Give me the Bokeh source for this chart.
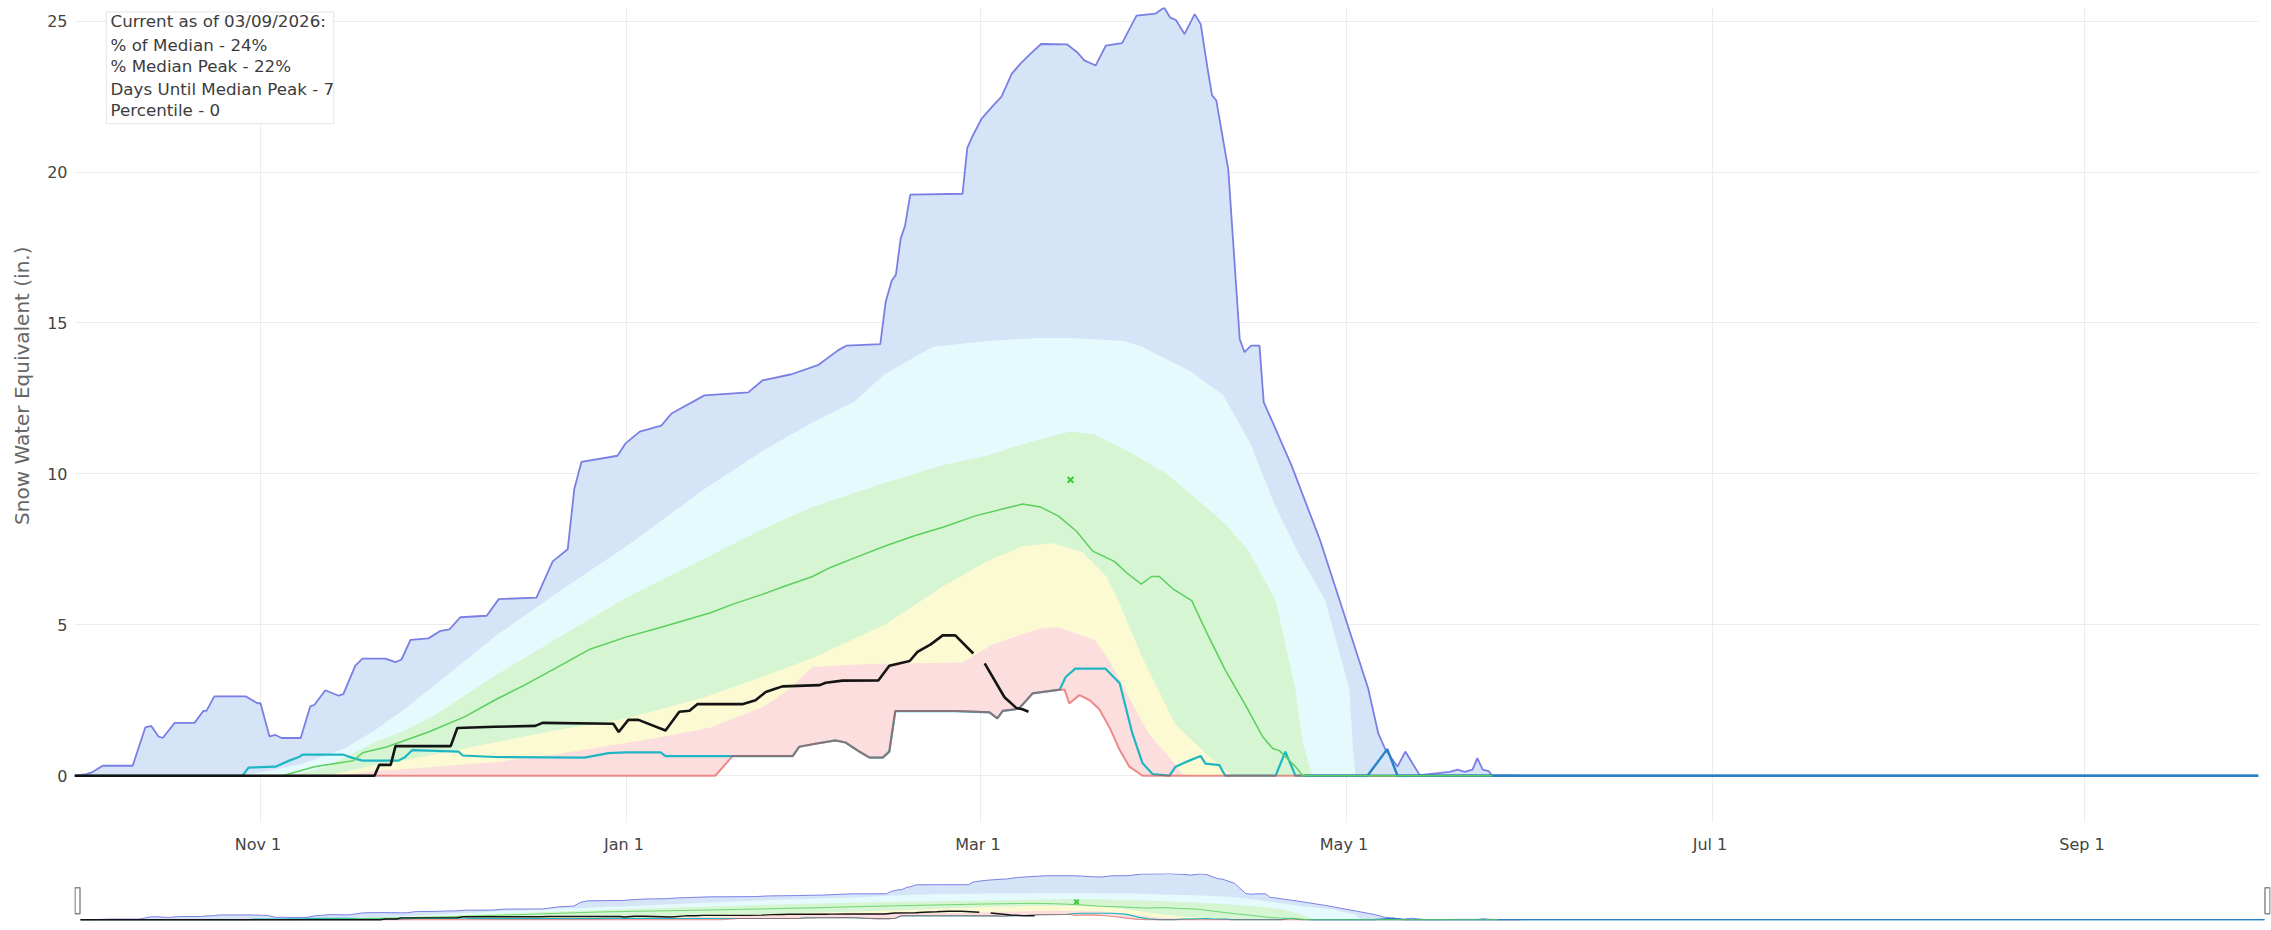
from datetime import datetime, timedelta
import numpy as np
from bokeh.plotting import figure
from bokeh.models import Range1d, FixedTicker, Label, BoxAnnotation, Title
from bokeh.layouts import column
from bokeh.embed import file_html
from bokeh.resources import INLINE

# ---------------- data (days since Oct 1 of water year 2026, SWE in inches) ----------------
WY_START = datetime(2025, 10, 1)
WY_DAYS = 364

max_day = [0, 2, 3, 4.7, 9.7, 11.8, 12.8, 14, 14.7, 16.7, 20, 21.5, 22, 23.3, 28.5, 30.5, 31, 32.5, 33.5, 34.5,
           37.7, 39.3, 40, 41.8, 44, 44.8, 46.8, 48, 51.8, 53.5, 54.5, 56, 59, 61, 62.5, 64.3, 68.7, 70.7, 77, 79.7,
           82.2, 83.3, 84.5, 90.5, 91.8, 94.2, 97.8, 99.5, 105, 112.3, 114.7, 119.5, 123.9, 127.3, 128.7, 134.3,
           135.2, 136.2, 136.9, 137.7, 138.4, 139.3, 148.0, 148.8, 149.7, 151.2, 153.1, 154.5, 156.2, 157.7, 159.4,
           161.1, 165.4, 167.1, 168.3, 170.2, 171.9, 174.6, 177.0, 180.2, 181.6, 182.6, 183.6, 185.0, 186.7, 187.7,
           188.9, 189.6, 190.3, 192.3, 194.2, 195.0, 196.1, 197.5, 198.2, 202.8, 207.6, 212.5, 215.6, 217.3, 218.5,
           220.5, 221.8, 224.2, 229.2, 230.5, 231.7, 233, 233.8, 234.7, 235.7, 236.3, 240]
max_swe = [0, 0.05, 0.12, 0.33, 0.33, 1.6, 1.65, 1.3, 1.25, 1.75, 1.75, 2.15, 2.15, 2.63, 2.63, 2.4, 2.4, 1.3, 1.35,
           1.25, 1.25, 2.3, 2.35, 2.83, 2.65, 2.7, 3.65, 3.88, 3.88, 3.76, 3.85, 4.5, 4.55, 4.8, 4.85, 5.25, 5.3,
           5.85, 5.9, 7.1, 7.5, 9.5, 10.4, 10.6, 11.0, 11.4, 11.6, 12.0, 12.6, 12.7, 13.1, 13.3, 13.6, 14.1, 14.25,
           14.3, 15.7, 16.4, 16.6, 17.8, 18.2, 19.25, 19.28, 20.8, 21.2, 21.77, 22.2, 22.5, 23.25, 23.6, 23.93,
           24.24, 24.23, 23.97, 23.7, 23.53, 24.19, 24.27, 25.18, 25.25, 25.45, 25.12, 25.03, 24.57, 25.23, 24.9,
           23.36, 22.54, 22.37, 20.07, 14.47, 14.03, 14.25, 14.25, 12.38, 10.3, 7.8, 4.8, 2.9, 1.4, 0.86,
           0.3, 0.8, 0.02, 0.13, 0.2, 0.13, 0.2, 0.58, 0.2, 0.15, 0, 0]

p90_day = [0, 28, 32, 38, 45, 50, 55, 60, 70, 80, 92, 105, 115, 123, 130, 135, 143, 152, 160, 166, 175, 178, 182,
           186, 191.5, 196, 200, 203.8, 208.5, 212.5, 213, 213.5, 240]
p90_swe = [0, 0, 0.15, 0.4, 0.9, 1.5, 2.2, 3.0, 4.6, 6.0, 7.6, 9.5, 10.8, 11.7, 12.4, 13.3, 14.2, 14.4, 14.5, 14.5,
           14.4, 14.2, 13.8, 13.4, 12.6, 11.0, 9.0, 7.44, 5.8, 2.83, 1.1, 0, 0]

p70_day = [0, 36, 42, 50, 55, 60, 70, 80, 92, 105, 115, 123, 135, 145, 152, 160, 166, 170, 176, 182, 188, 192,
           195.7, 200.2, 203.5, 204.7, 206.3, 240]
p70_swe = [0, 0, 0.3, 1.1, 1.5, 2.0, 3.3, 4.5, 5.9, 7.2, 8.2, 8.9, 9.7, 10.3, 10.6, 11.1, 11.4, 11.3, 10.7, 10.0,
           9.0, 8.3, 7.44, 5.8, 2.83, 1.1, 0, 0]

p30_day = [0, 42, 50, 60, 70, 80, 92, 105, 115, 123, 135, 145, 152, 158, 163, 168, 172, 174, 178, 183.5, 189, 193, 240]
p30_swe = [0, 0, 0.35, 0.7, 1.1, 1.5, 1.9, 2.6, 3.3, 3.9, 5.0, 6.3, 7.1, 7.6, 7.7, 7.4, 6.6, 5.8, 3.9, 1.7, 0.65, 0, 0]

p10_day = [0, 44, 50, 60, 70, 80, 97, 106, 115, 119, 123, 132, 148, 153, 161, 164, 170, 172.5, 176, 179, 182.5,
           184.7, 186, 240]
p10_swe = [0, 0, 0.15, 0.3, 0.45, 0.7, 1.25, 1.6, 2.3, 2.85, 3.6, 3.7, 3.75, 4.35, 4.88, 4.92, 4.5, 3.8, 2.5, 1.4,
           0.6, 0.05, 0, 0]

min_day = [0, 106.8, 109.7, 110.2, 119.7, 120.8, 123.5, 126.8, 128.5, 130.8, 132.5, 134.7, 135.8, 136.8, 146.8,
           152.5, 153.8, 154.7, 156.8, 157.5, 159.7, 164.2, 165, 165.8, 167.5, 169.2, 170.8, 172.5, 174.2, 175.8,
           178, 240]
min_swe = [0, 0, 0.65, 0.65, 0.65, 0.96, 1.06, 1.17, 1.1, 0.8, 0.6, 0.6, 0.8, 2.14, 2.14, 2.1, 1.9, 2.15, 2.2,
           2.24, 2.73, 2.85, 2.85, 2.39, 2.67, 2.5, 2.2, 1.6, 0.85, 0.3, 0, 0]

med_day = [0, 34.7, 40, 46.5, 48, 52, 59, 65, 70, 75, 80.5, 86, 92, 97.5, 106, 110, 114.5, 118, 123, 126, 129.8,
           135, 140, 145, 150, 155, 158, 161, 164, 167, 169.7, 173.3, 175.5, 177.8, 179.5, 180.8, 183, 186.2, 188.8,
           191.8, 195, 198, 199.7, 200.8, 202, 203.5, 204.7, 236.3]
med_swe = [0, 0, 0.3, 0.5, 0.76, 0.95, 1.45, 1.95, 2.5, 3.0, 3.6, 4.2, 4.6, 4.9, 5.4, 5.7, 6.0, 6.25, 6.6, 6.9,
           7.2, 7.6, 7.95, 8.25, 8.6, 8.85, 9.0, 8.9, 8.6, 8.1, 7.44, 7.1, 6.7, 6.35, 6.6, 6.6, 6.2, 5.8, 4.7, 3.5,
           2.4, 1.3, 0.9, 0.83, 0.6, 0.3, 0, 0]

low_day = [0, 28, 29, 33.5, 35.8, 37.5, 38, 44.7, 46.3, 48, 54, 55, 56.3, 64, 64.7, 70, 85, 89, 92, 97.7, 98.5,
           110.2, 119.7, 120.8, 123.5, 126.8, 128.5, 130.8, 132.5, 134.7, 135.8, 136.8, 146.8, 152.5, 153.8, 154.7,
           156.8, 157.5, 159.7, 164.2, 165.2, 166.8, 171.8, 174.2, 176.3, 178, 179.7, 182.5, 183.5, 185.8, 187.7,
           188.5, 190.8, 191.8, 200.2, 201.8, 203.5, 364]
low_swe = [0, 0, 0.27, 0.3, 0.5, 0.63, 0.7, 0.7, 0.59, 0.5, 0.5, 0.6, 0.85, 0.8, 0.67, 0.62, 0.6, 0.75, 0.77, 0.77,
           0.65, 0.65, 0.65, 0.96, 1.06, 1.17, 1.1, 0.8, 0.6, 0.6, 0.8, 2.14, 2.14, 2.1, 1.9, 2.15, 2.2, 2.24, 2.73,
           2.85, 3.27, 3.55, 3.55, 3.06, 1.41, 0.42, 0.05, 0, 0.3, 0.5, 0.65, 0.4, 0.35, 0, 0, 0.8, 0, 0]

blue_day = [205, 215.5, 218.8, 220.5, 364]
blue_swe = [0, 0, 0.88, 0, 0]

cur_day = [0, 50, 50.8, 52.7, 53.5, 62.7, 63.8, 70, 76.8, 78, 89.8, 90.7, 92.3, 94, 98.5, 100.8, 102.5, 103.8,
           111.3, 113.5, 115.2, 116.8, 118, 124.2, 125.2, 128, 134, 135.8, 139.2, 140.5, 142.7, 144.7, 146.8, 149.8,
           150.5, 151.7, 155, 157, 158, 159]
cur_swe = [0, 0, 0.36, 0.36, 0.98, 0.98, 1.58, 1.62, 1.65, 1.75, 1.72, 1.45, 1.85, 1.85, 1.5, 2.12, 2.15, 2.37,
           2.37, 2.5, 2.77, 2.88, 2.96, 3.0, 3.08, 3.15, 3.16, 3.64, 3.8, 4.1, 4.35, 4.65, 4.65, 4.05, float("nan"),
           3.72, 2.6, 2.24, 2.2, 2.12]

peak_day = [166]
peak_swe = [9.8]

tick_dates = ["2025-11-01", "2026-01-01", "2026-03-01", "2026-05-01", "2026-07-01", "2026-09-01"]
tick_labels = ["Nov  1", "Jan  1", "Mar  1", "May  1", "Jul  1", "Sep  1"]
y_ticks = [0, 5, 10, 15, 20, 25]
y_title = "Snow Water Equivalent (in.)"

info_lines = ["Current as of 03/09/2026:", "% of Median - 24%", "% Median Peak - 22%",
              "Days Until Median Peak - 7", "Percentile - 0"]

for a, b in [(max_day, max_swe), (p90_day, p90_swe), (p70_day, p70_swe), (p30_day, p30_swe), (p10_day, p10_swe),
             (min_day, min_swe), (med_day, med_swe), (low_day, low_swe), (blue_day, blue_swe), (cur_day, cur_swe)]:
    assert len(a) == len(b)

# ---------------- helpers ----------------
EPOCH = datetime(1970, 1, 1)


def ms(dt):
    return (dt - EPOCH).total_seconds() * 1000.0


def to_ms(days):
    return [ms(WY_START + timedelta(days=d)) for d in days]


X0 = ms(WY_START)
X1 = ms(WY_START + timedelta(days=WY_DAYS))
DAY = 86400000.0
Y0, Y1 = -1.55, 25.45

FONT = "DejaVu Sans"

BAND_BLUE = "#d6e4f8"
BAND_CYAN = "#e4fafc"
BAND_GREEN = "#d5f5d3"
BAND_YELLOW = "#fcfad2"
BAND_PINK = "#fcdede"


def draw(fig, s):
    def band(ud, uv, color):
        xs = to_ms(ud) + to_ms(min_day)[::-1]
        ys = list(uv) + list(min_swe)[::-1]
        fig.patch(xs, ys, fill_color=color, line_color=None)

    band(max_day, max_swe, BAND_BLUE)
    band(p90_day, p90_swe, BAND_CYAN)
    band(p70_day, p70_swe, BAND_GREEN)
    band(p30_day, p30_swe, BAND_YELLOW)
    band(p10_day, p10_swe, BAND_PINK)

    fig.line(to_ms(max_day), max_swe, line_color="#7b7fe3", line_width=1.8 * s)
    fig.line(to_ms(low_day), low_swe, line_color="#1fb6c4", line_width=2.2 * s)
    fig.line(to_ms(min_day), min_swe, line_color="#e03c3c", line_alpha=0.55, line_width=2.0 * s)
    fig.line(to_ms(blue_day), blue_swe, line_color="#2a80c8", line_width=2.4 * s)
    fig.line(to_ms(med_day), med_swe, line_color="#5ccf5c", line_width=1.5 * s)
    fig.line(to_ms(cur_day), np.array(cur_swe), line_color="#141414", line_width=2.6 * s)
    fig.scatter(to_ms(peak_day), peak_swe, marker="x", size=8 * (1 if s >= 1 else 0.8),
                line_color="#33cc33", line_width=2)


# ---------------- main figure ----------------
p = figure(x_axis_type="datetime", x_range=Range1d(X0, X1), y_range=Range1d(Y0, Y1),
           frame_width=2184, frame_height=815, output_backend="svg", toolbar_location=None,
           min_border_left=72, min_border_right=15, min_border_top=7, min_border_bottom=34)
p.outline_line_color = None
p.background_fill_color = "white"
p.border_fill_color = "white"

draw(p, 1.0)

tick_ms = [ms(datetime.strptime(d, "%Y-%m-%d")) for d in tick_dates]
p.xaxis.ticker = FixedTicker(ticks=tick_ms)
p.xaxis.major_label_overrides = {int(t): lab for t, lab in zip(tick_ms, tick_labels)}
p.yaxis.ticker = FixedTicker(ticks=y_ticks)

for ax in (p.xaxis, p.yaxis):
    ax.axis_line_color = None
    ax.major_tick_line_color = None
    ax.minor_tick_line_color = None
    ax.major_tick_out = 0
    ax.major_tick_in = 0
    ax.minor_tick_out = 0
    ax.minor_tick_in = 0
    ax.major_label_text_font = FONT
    ax.major_label_text_font_size = "16px"
    ax.major_label_text_color = "#444444"

p.xaxis.major_label_standoff = 12
p.yaxis.major_label_standoff = 7

p.xgrid.grid_line_color = "#ececec"
p.ygrid.grid_line_color = "#ececec"
p.xgrid.level = "underlay"
p.ygrid.level = "underlay"

# y-axis title as a side title, so its vertical position can match the reference
p.add_layout(Title(text=y_title, align="right", offset=239, vertical_align="top", standoff=18,
                   text_font=FONT, text_font_size="20px", text_font_style="normal",
                   text_color="#666666"), "left")

# info box (top-left)
box_left = X0 + 5.3 * DAY
box_right = X0 + 43.2 * DAY
p.add_layout(BoxAnnotation(left=box_left, right=box_right, top=25.30, bottom=21.60,
                           fill_color="white", fill_alpha=1.0, line_color="#aaaaaa", line_width=1))
line_y = [24.99, 24.22, 23.50, 22.76, 22.04]
for txt, yv in zip(info_lines, line_y):
    p.add_layout(Label(x=X0 + 6.0 * DAY, y=yv, text=txt, text_font=FONT, text_font_size="16.7px",
                       text_color="#3c3c3c", text_baseline="middle", text_align="left"))

# ---------------- range-slider style overview ----------------
p2 = figure(x_axis_type="datetime", x_range=Range1d(X0 - DAY, X1 + DAY), y_range=Range1d(Y0, Y1),
            frame_width=2196, frame_height=49, output_backend="svg", toolbar_location=None,
            x_axis_location=None, y_axis_location=None,
            min_border_left=66, min_border_right=9, min_border_top=17, min_border_bottom=0)
p2.outline_line_color = None
p2.xgrid.visible = False
p2.ygrid.visible = False
draw(p2, 0.55)
p2.rect(x=[X0 - 0.5 * DAY, X1 + 0.5 * DAY], y=[10.5, 10.5], width=5, height=26,
        width_units="screen", height_units="screen", fill_color="white", line_color="#8a8a8a", line_width=1.5)

layout = column(p, p2, spacing=0)
open("out.html", "w").write(file_html(layout, INLINE))
